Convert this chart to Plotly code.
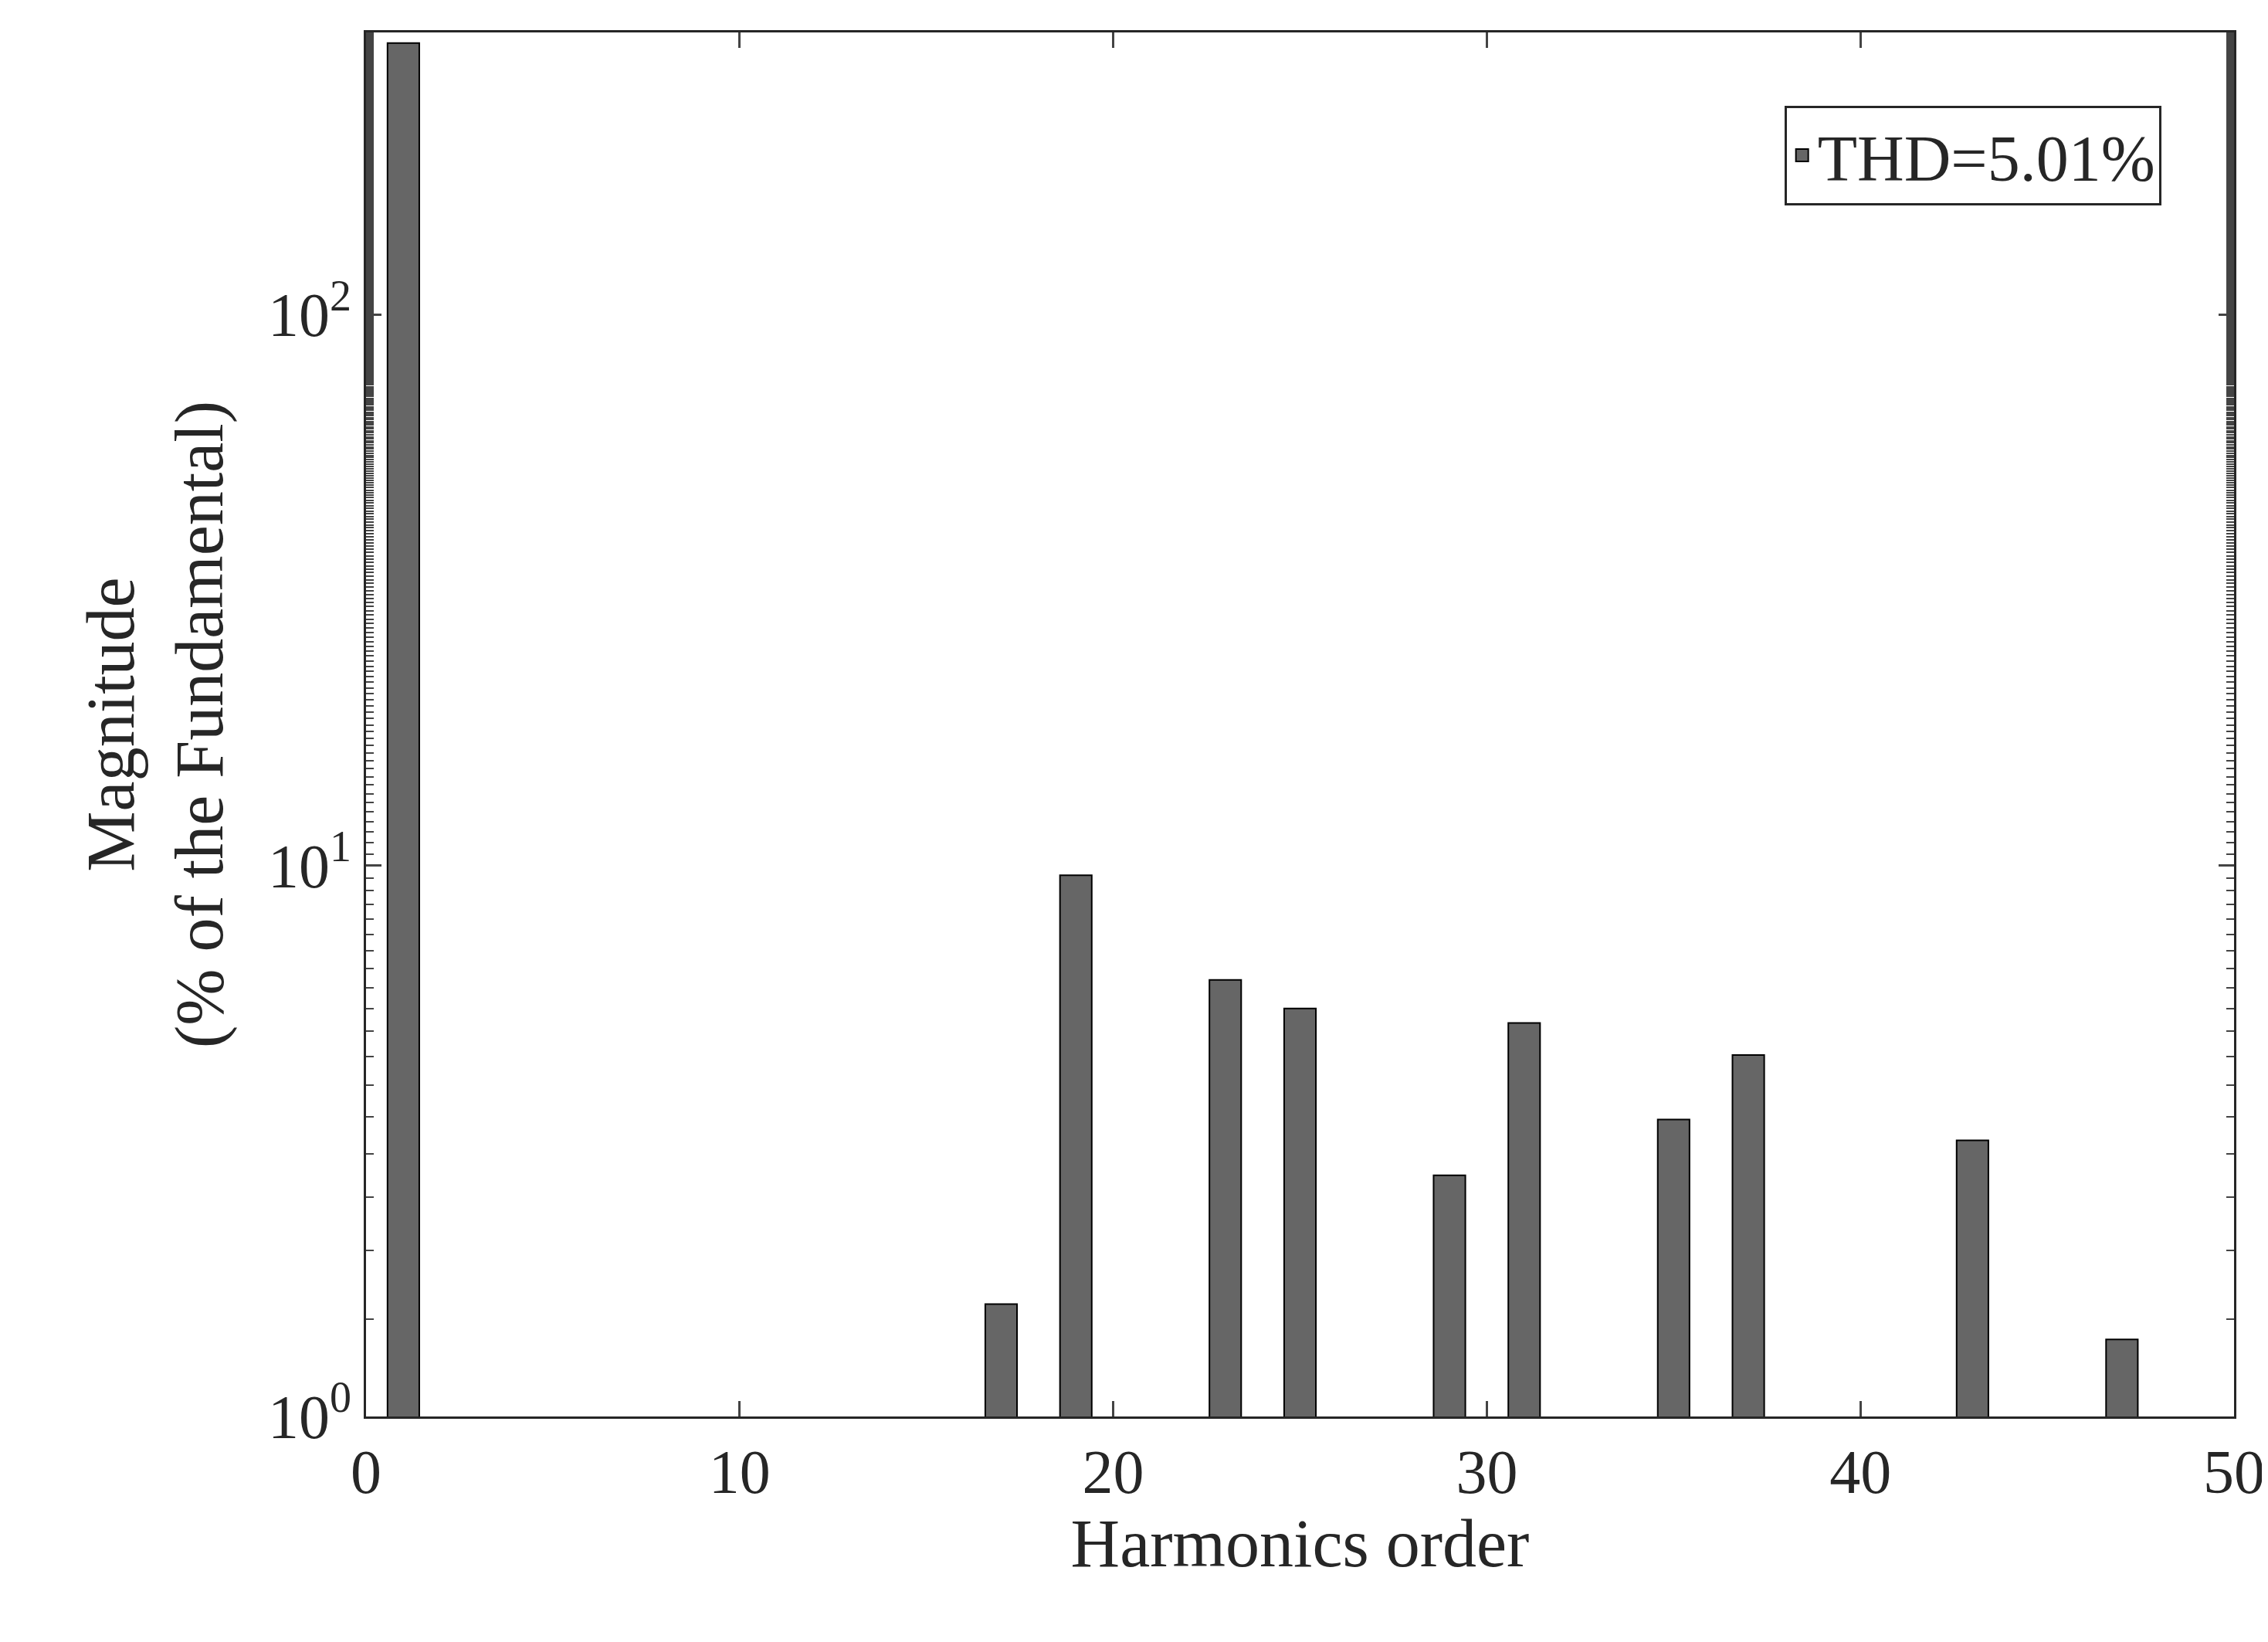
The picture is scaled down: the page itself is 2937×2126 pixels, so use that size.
import plotly.graph_objects as go

orders = [1, 17, 19, 23, 25, 29, 31, 35, 37, 43, 47]
magnitudes = [311, 1.60, 9.6, 6.2, 5.5, 2.74, 5.18, 3.46, 4.53, 3.17, 1.38]
legend_label = "THD=5.01%"
y_tickvals = [1, 10, 100]
y_ticktext = ["10<sup>0</sup>", "10<sup>1</sup>", "10<sup>2</sup>"]

font = "Liberation Serif, DejaVu Serif, serif"
fig = go.Figure()
fig.add_trace(go.Bar(x=orders, y=magnitudes, width=0.85, name=legend_label,
                     marker=dict(color="#666666", line=dict(color="black", width=2)),
                     showlegend=False))
fig.add_trace(go.Scatter(x=[None], y=[None], mode="markers", name=legend_label,
                         marker=dict(symbol="square", size=60, color="#666666",
                                     line=dict(color="black", width=2))))
fig.update_layout(
    width=2937, height=2126, paper_bgcolor="white", plot_bgcolor="white",
    margin=dict(l=466, r=46, t=34, b=300),
    font=dict(family=font, size=80, color="#262626"),
    legend=dict(x=0.961, y=0.947, xanchor="right", yanchor="top", bordercolor="#262626",
                borderwidth=3, bgcolor="white", font=dict(size=84), itemsizing="trace"),
    xaxis=dict(range=[0, 50], dtick=10, ticks="inside", ticklen=20, tickwidth=3,
               showline=True, linewidth=3, linecolor="#262626", mirror="ticks",
               showgrid=False, zeroline=False,
               title=dict(text="Harmonics order", font=dict(size=88), standoff=10)),
    yaxis=dict(type="log", range=[0, 2.512], tickvals=y_tickvals, ticktext=y_ticktext,
               ticks="inside", ticklen=20, tickwidth=3,
               minor=dict(ticks="inside", ticklen=10, tickwidth=2, showgrid=False),
               showline=True, linewidth=3, linecolor="#262626", mirror="ticks",
               showgrid=False, zeroline=False,
               title=dict(text="Magnitude<br>(% of the Fundamental)", font=dict(size=88), standoff=30)),
)
fig.write_html("out.html")
